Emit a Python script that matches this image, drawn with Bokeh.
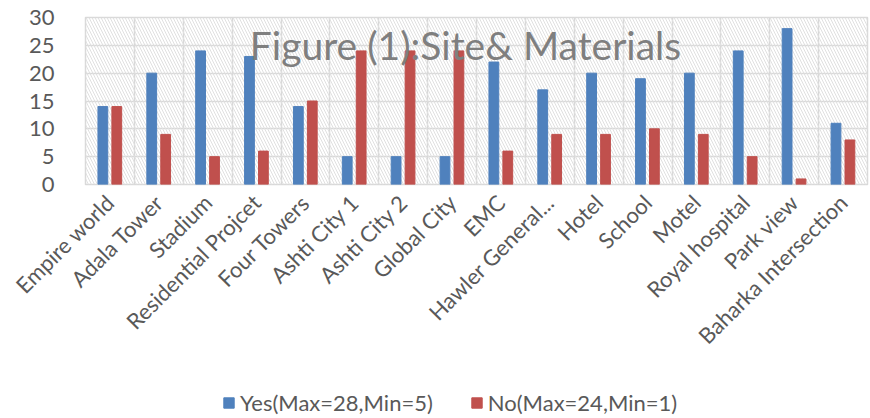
import numpy as np
from bokeh.plotting import figure
from bokeh.layouts import column
from bokeh.models import (ColumnDataSource, FixedTicker, Label, Legend, LegendItem,
                          BoxAnnotation, Range1d)
from bokeh.embed import file_html
from bokeh.resources import INLINE

categories = ["Empire world", "Adala Tower", "Stadium", "Residential Projcet", "Four Towers",
              "Ashti City 1", "Ashti City 2", "Global City", "EMC", "Hawler General...",
              "Hotel", "School", "Motel", "Royal hospital", "Park view", "Baharka Intersection"]
yes_vals = [14, 20, 24, 23, 14, 5, 5, 5, 22, 17, 20, 19, 20, 24, 28, 11]
no_vals = [14, 9, 5, 6, 15, 24, 24, 24, 6, 9, 9, 10, 9, 5, 1, 8]
y_ticks = [0, 5, 10, 15, 20, 25, 30]
title_text = "Figure (1):Site& Materials"
yes_label = "Yes(Max=28,Min=5)"
no_label = "No(Max=24,Min=1)"

BLUE = "#4f81bd"
RED = "#c0504d"
GRAY = "#595959"
GRID = "#d9d9d9"
FONT = "Lato"

idx = np.arange(len(categories))
src = ColumnDataSource(dict(x_yes=idx - 0.145, x_no=idx + 0.14, yes=yes_vals, no=no_vals))

p = figure(width=870, height=386, output_backend="svg", toolbar_location=None,
           x_range=Range1d(-0.5, len(categories) - 0.5), y_range=Range1d(0, 30))
p.min_border_left = 85
p.min_border_right = 3
p.min_border_top = 17
p.min_border_bottom = 202
p.outline_line_color = GRID
p.outline_line_width = 1.5
p.background_fill_color = "white"

# hatched background
p.add_layout(BoxAnnotation(fill_alpha=0, line_alpha=0, hatch_pattern="left_diagonal_line",
                           hatch_color="#e0e0e0", hatch_scale=6, hatch_weight=1,
                           level="underlay"))

p.vbar(x="x_yes", top="yes", width=0.2, source=src, color=BLUE)
p.vbar(x="x_no", top="no", width=0.2, source=src, color=RED)

# axes
p.xaxis.ticker = FixedTicker(ticks=list(idx))
p.xaxis.major_label_overrides = {int(i): c for i, c in zip(idx, categories)}
p.xaxis.major_label_orientation = np.pi / 4
p.xaxis.major_label_text_font = FONT
p.xaxis.major_label_text_font_size = "22px"
p.xaxis.major_label_text_color = GRAY
p.xaxis.major_label_standoff = 8
p.xaxis.axis_line_color = None
p.xaxis.major_tick_line_color = None
p.xaxis.minor_tick_line_color = None

p.yaxis.ticker = FixedTicker(ticks=y_ticks)
p.yaxis.major_label_text_font = FONT
p.yaxis.major_label_text_font_size = "22px"
p.yaxis.major_label_text_color = GRAY
p.yaxis.major_label_standoff = 25
p.yaxis.axis_line_color = None
p.yaxis.major_tick_line_color = None
p.yaxis.minor_tick_line_color = None

p.xgrid.ticker = FixedTicker(ticks=list(idx - 0.5) + [len(categories) - 0.5])
p.xgrid.grid_line_color = GRID
p.xgrid.grid_line_width = 1.5
p.ygrid.ticker = FixedTicker(ticks=y_ticks)
p.ygrid.grid_line_color = GRID
p.ygrid.grid_line_width = 1.5

# title inside plot
p.add_layout(Label(x=380, y=140, x_units="screen", y_units="screen", text=title_text,
                   text_font=FONT, text_font_size="39px", text_color="#7f7f7f",
                   text_align="center", text_baseline="alphabetic"))

# legend strip
pl = figure(width=870, height=32, output_backend="svg", toolbar_location=None,
            x_axis_location=None, y_axis_location=None, min_border=0,
            x_range=Range1d(-0.5, len(categories) - 0.5), y_range=Range1d(0, 30))
pl.outline_line_color = None
pl.grid.visible = False
ly = pl.vbar(x="x_yes", top="yes", width=0.2, source=src, color=BLUE, visible=False)
ln = pl.vbar(x="x_no", top="no", width=0.2, source=src, color=RED, visible=False)
legend = Legend(items=[LegendItem(label=yes_label, renderers=[ly]),
                       LegendItem(label=no_label, renderers=[ln])],
                orientation="horizontal", location=(137, 2),
                padding=0, margin=0, spacing=37, label_standoff=5,
                glyph_width=13, glyph_height=13,
                label_text_font=FONT, label_text_font_size="22px",
                label_text_color=GRAY, border_line_alpha=0,
                background_fill_alpha=0)
pl.add_layout(legend, "center")

layout = column(p, pl, spacing=0)
open("out.html", "w").write(file_html(layout, INLINE))
